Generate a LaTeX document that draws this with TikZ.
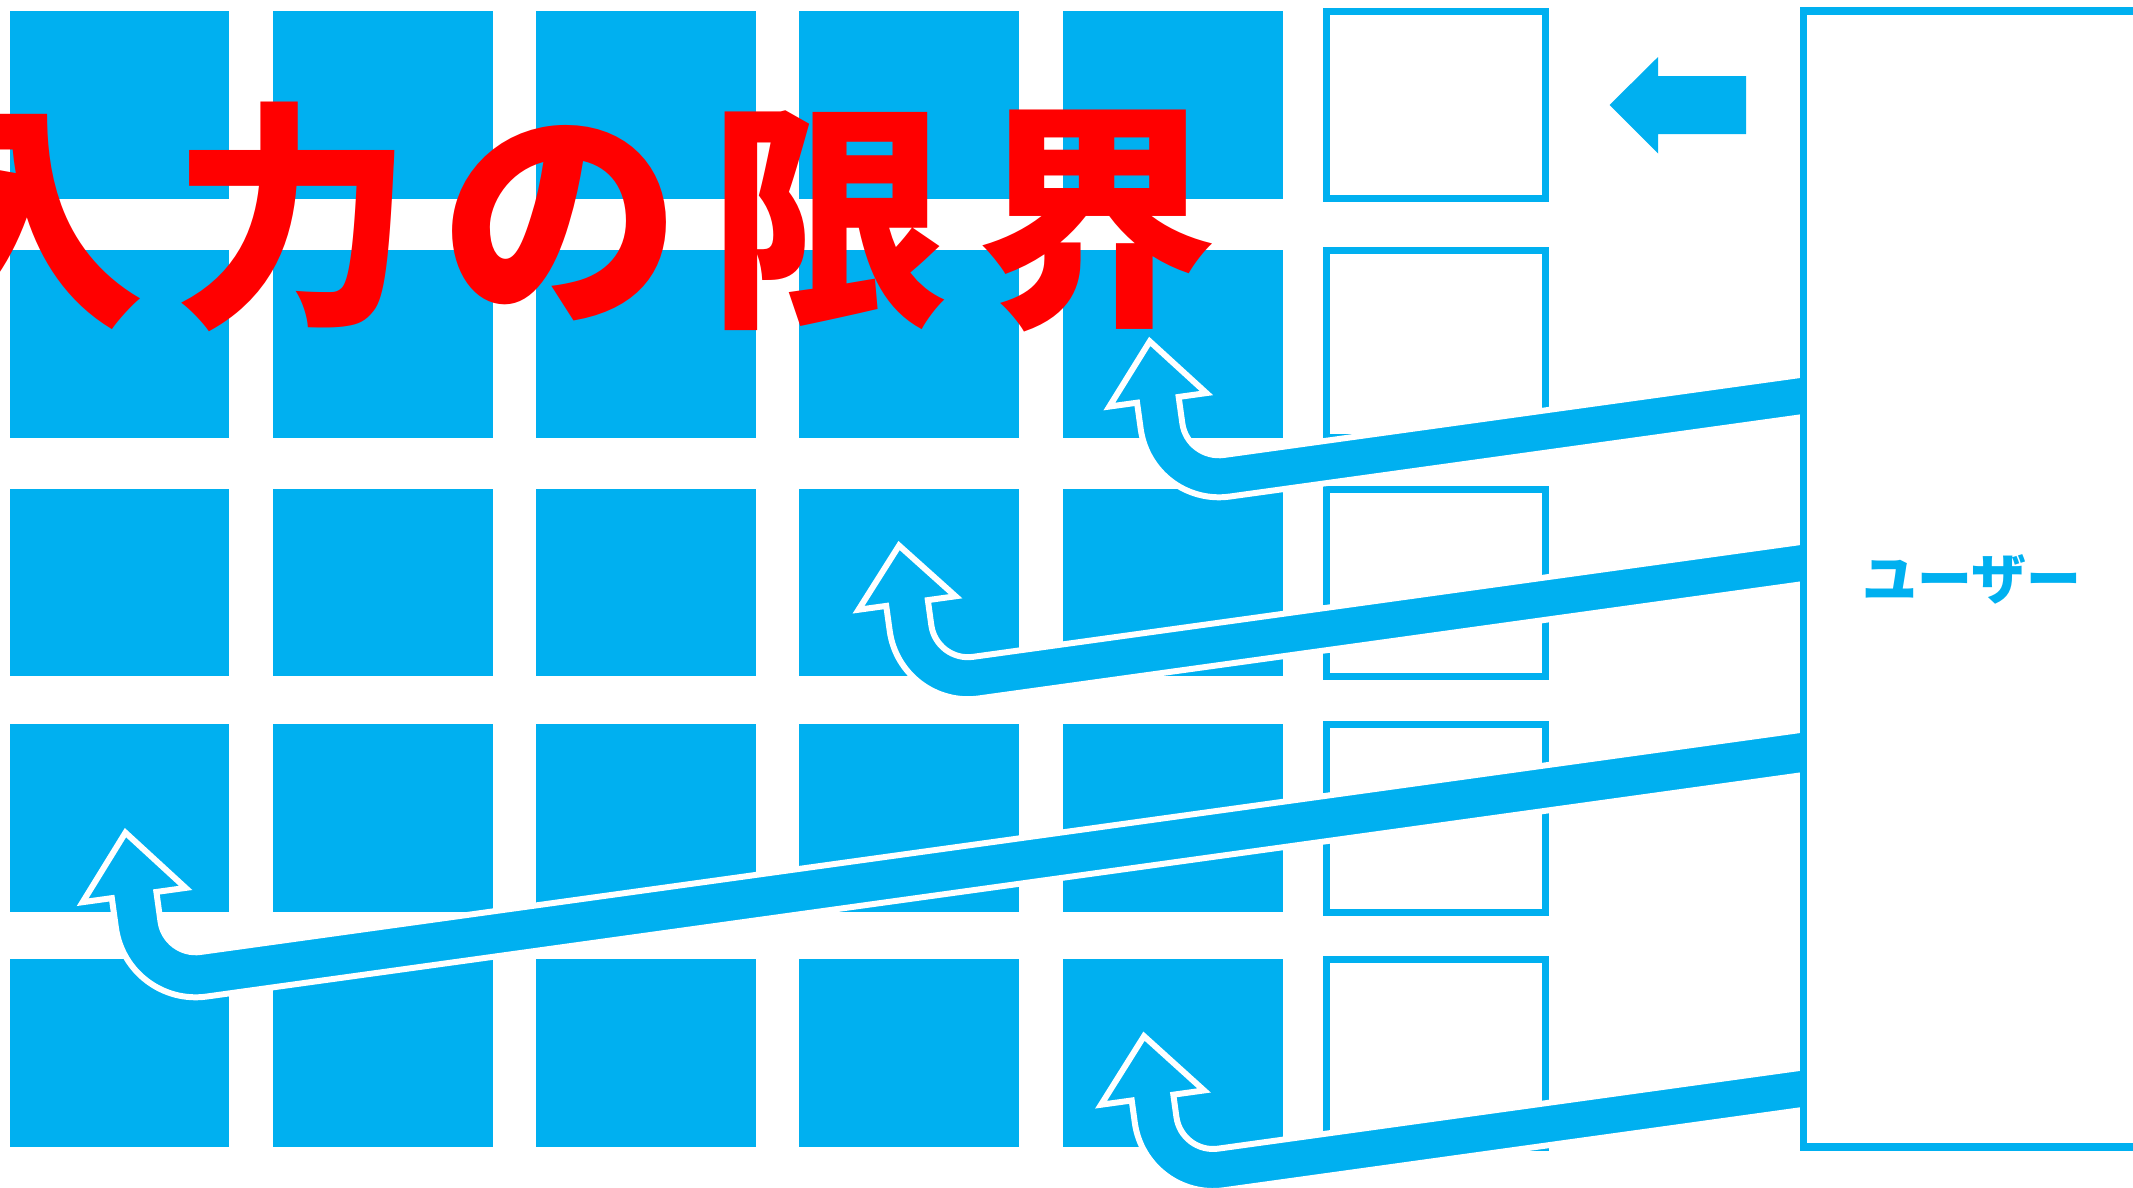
\documentclass[tikz,border=0pt]{standalone}
\usepackage{fontspec}
\newfontfamily\jpfont{Noto Sans CJK JP}
\definecolor{TileBlue}{RGB}{0,176,240}
\definecolor{TitleRed}{RGB}{255,0,0}
\tikzset{
  tile/.style={fill=TileBlue},
  slot/.style={draw=TileBlue, fill=white, line width=1.99pt},
  userbox/.style={draw=TileBlue, fill=white, line width=2.1pt},
  bendarrow/.style={fill=TileBlue, draw=white, line width=1.7pt, line join=miter},
}

\begin{document}
\begin{tikzpicture}[x=0.01cm,y=0.01cm]
  \useasboundingbox (0,0) rectangle (2133,-1187);
  \clip (0,0) rectangle (2133,-1187);
  % tiles
  \foreach \tx in {9.5,273,536,799,1063}
    \foreach \ty/\tb in {11/198.5,250/437.5,489/676,724/912,959/1147}
      \fill[tile] (\tx,-\ty) rectangle (\tx+219.5,-\tb);
  % empty slots
  \foreach \ty/\tb in {11/198.5,250/437.5,489/676,724/912,959/1147}
    \draw[slot] (1326,-\ty) rectangle (1545,-\tb);
  % title
  \node[text=TitleRed, inner sep=0pt,
        font=\jpfont\bfseries\fontsize{68.5}{72}\selectfont] (title) at (561,-217)
    {入\kern2.7mm 力\kern2.7mm の\kern2.7mm 限\kern2.7mm 界};
  % arrows coming back from the user
  \foreach \cx/\cy/\len/\hw/\hl/\bw/\ee in {1169.5/483.7/84.7/49/59/21/651.7,
      918.5/685.6/83.4/49/58/21/905.1, 146.2/982.2/88/52/63/22.5/1684.8,
      1163.6/1177.4/80.6/52/62/21/657.6}
  {
    \begin{scope}[shift={(\cx,-\cy)}, rotate=7.9]
      \draw[bendarrow] (\ee,\bw) -- (58,\bw)
        arc[start angle=-90, end angle=-180, radius=58-\bw]
        -- (\bw,\len) -- (\hw,\len) -- (0,\len+\hl) -- (-\hw,\len) -- (-\bw,\len) -- (-\bw,58)
        arc[start angle=180, end angle=270, radius=58+\bw]
        -- (\ee,-\bw) -- cycle;
    \end{scope}
  }
  % user
  \draw[userbox] (1803.5,-11) rectangle (2200,-1147);
  \node[text=TileBlue, inner sep=0pt,
        font=\jpfont\bfseries\fontsize{15.6}{18}\selectfont] (user) at (1972,-579) {ユーザー};
  % input arrow
  \fill[TileBlue] (1609.5,-105) -- (1658,-57) -- (1658,-76) -- (1746,-76)
    -- (1746,-134) -- (1658,-134) -- (1658,-153.5) -- cycle;
\end{tikzpicture}
\end{document}
